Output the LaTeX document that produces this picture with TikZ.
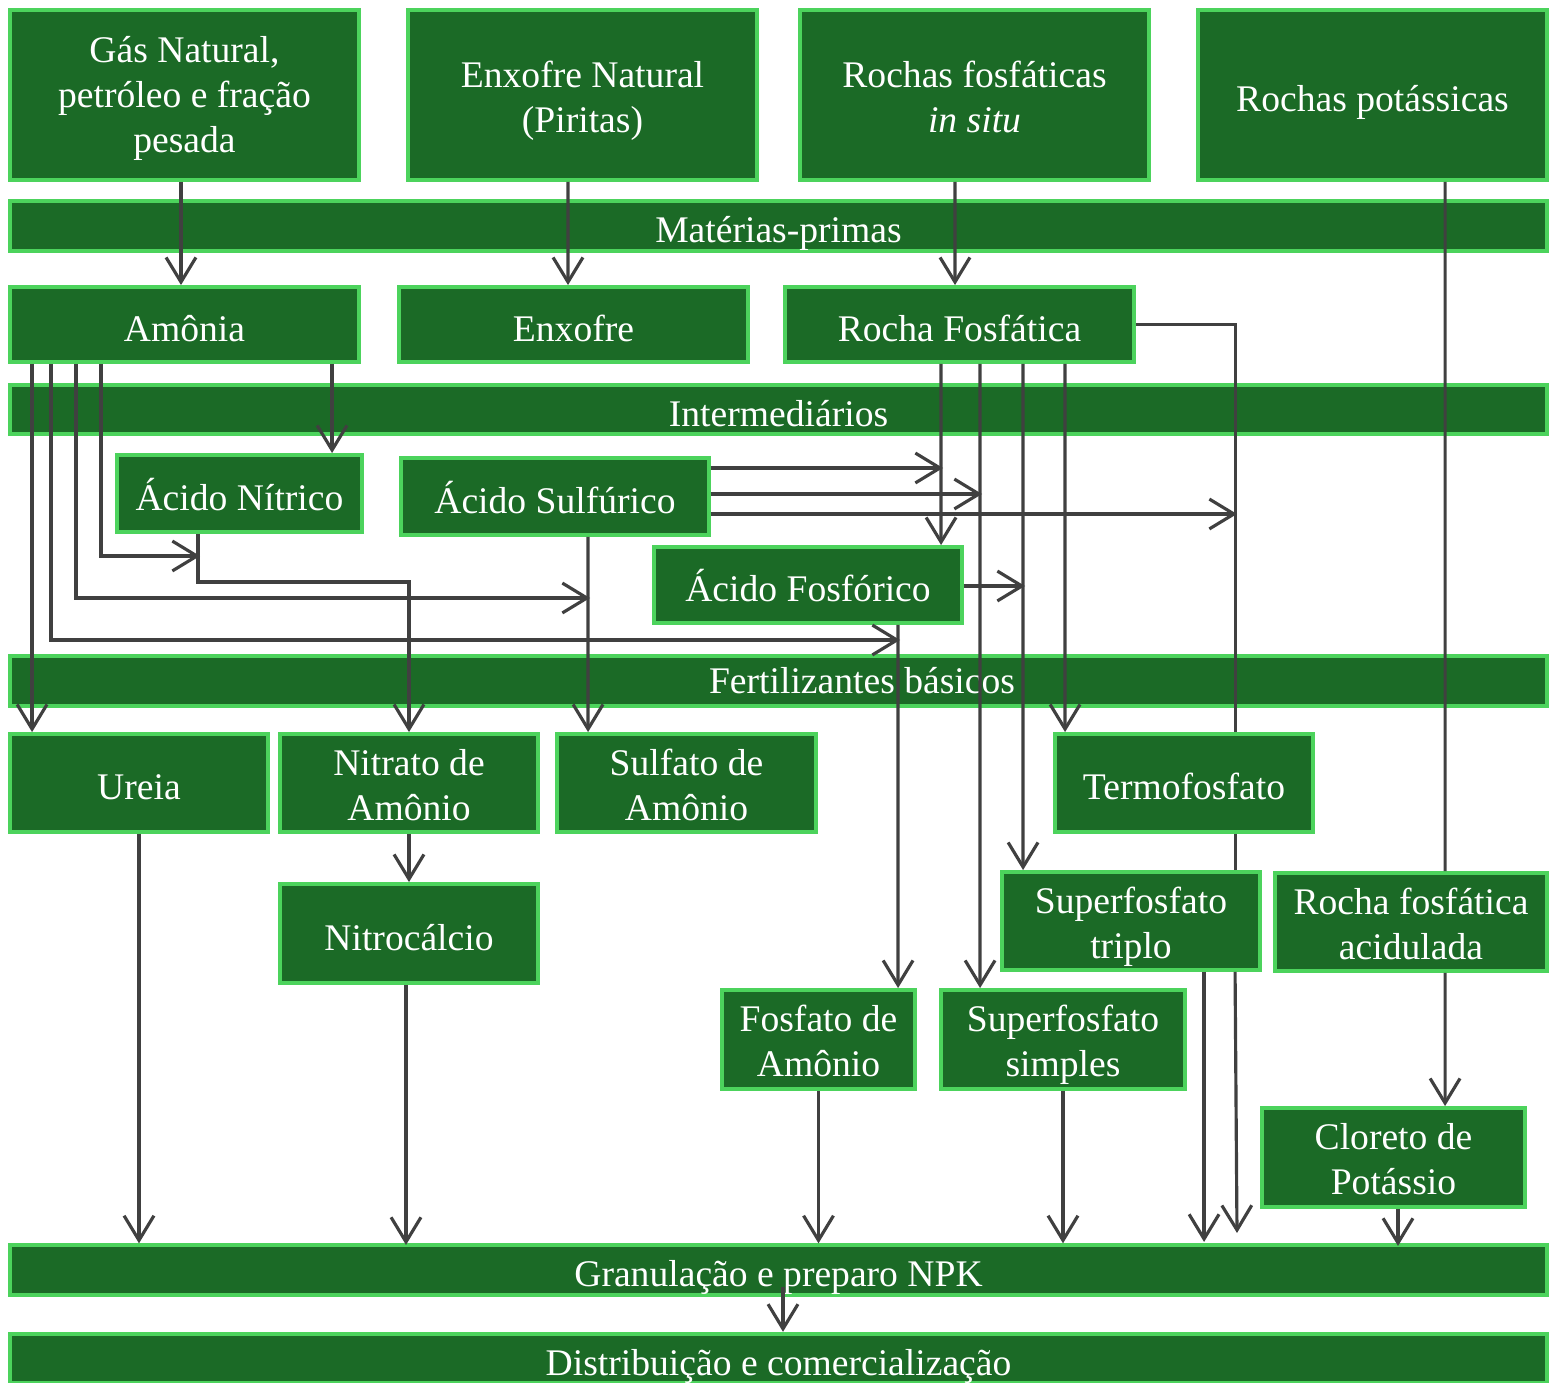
\documentclass[tikz,border=0pt]{standalone}
\usepackage{fontspec}
\setmainfont{Liberation Serif}
\usepackage{tikz}
\usetikzlibrary{arrows.meta}

\definecolor{boxfill}{RGB}{27,106,38}
\definecolor{boxline}{RGB}{76,211,92}
\definecolor{linegray}{RGB}{64,64,64}

\begin{document}
\begin{tikzpicture}[
  box/.style={draw=boxline, fill=boxfill, line width=1.1pt, text=white, align=center,
    inner sep=0pt, font=\fontsize{10.7}{12.8}\selectfont,
    execute at begin node={\rule{0pt}{1.1em}},
    execute at end node={\rule[-0.216em]{0pt}{0.216em}}},
  two/.style={execute at begin node={\rule{0pt}{\dimexpr 12.8pt+1.0em\relax}}},
  three/.style={execute at begin node={\rule{0pt}{\dimexpr 25.6pt+0.9em\relax}}},
  band/.style={box, minimum width=15.37cm, minimum height=0.44cm,
    execute at begin node={\rule{0pt}{0.891em}}},
  bandtext/.style={text=white, inner sep=0pt, font=\fontsize{10.7}{12.8}\selectfont,
    execute at begin node={\rule{0pt}{0.891em}},
    execute at end node={\rule[-0.216em]{0pt}{0.216em}}},
  arr/.style={draw=linegray, line width=0.9pt, -{Straight Barb[length=7pt,width=8.5pt]}},
  seg/.style={draw=linegray, line width=0.9pt}
]

\useasboundingbox (0,0) rectangle (15.5,-13.83);

%Bands
\node[band] (mat) at (7.785,-2.26) {Matérias-primas};
\node[band] (inter) at (7.785,-4.095) {Intermediários};
\node[band] (fert) at (7.785,-6.81) {};
\node[bandtext] (ferttxt) at (8.62,-6.81) {Fertilizantes básicos};
\node[band] (gran) at (7.785,-12.70) {Granulação e preparo NPK};
\node[band, minimum height=0.43cm] (dist) at (7.785,-13.585) {Distribuição e comercialização};

%Raw materials
\node[box, three, minimum width=3.49cm, minimum height=1.70cm] (gas) at (1.845,-0.95) {Gás Natural,\\petróleo e fração\\pesada};
\node[box, two, minimum width=3.49cm, minimum height=1.70cm] (pirita) at (5.825,-0.95) {Enxofre Natural\\(Piritas)};
\node[box, two, minimum width=3.49cm, minimum height=1.70cm] (rochasf) at (9.745,-0.95) {Rochas fosfáticas\\\textit{in situ}};
\node[box, minimum width=3.49cm, minimum height=1.70cm] (potas) at (13.725,-0.95) {Rochas potássicas};

\node[box, minimum width=3.49cm, minimum height=0.75cm] (amonia) at (1.845,-3.245) {Amônia};
\node[box, minimum width=3.49cm, minimum height=0.75cm] (enxofre) at (5.735,-3.245) {Enxofre};
\node[box, minimum width=3.49cm, minimum height=0.75cm] (rocha) at (9.595,-3.245) {Rocha Fosfática};

%Intermediates
\node[box, minimum width=2.45cm, minimum height=0.77cm] (nitrico) at (2.395,-4.935) {Ácido Nítrico};
\node[box, minimum width=3.08cm, minimum height=0.77cm] (sulfurico) at (5.55,-4.965) {Ácido Sulfúrico};
\node[box, minimum width=3.08cm, minimum height=0.76cm] (fosforico) at (8.08,-5.85) {Ácido Fosfórico};

%Fertilizers
\node[box, minimum width=2.58cm, minimum height=0.98cm] (ureia) at (1.39,-7.83) {Ureia};
\node[box, two, minimum width=2.58cm, minimum height=0.98cm] (nitrato) at (4.09,-7.83) {Nitrato de\\Amônio};
\node[box, two, minimum width=2.59cm, minimum height=0.98cm] (sulfato) at (6.865,-7.83) {Sulfato de\\Amônio};
\node[box, minimum width=2.58cm, minimum height=0.98cm] (termo) at (11.84,-7.83) {Termofosfato};
\node[box, minimum width=2.58cm, minimum height=0.99cm] (nitrocalcio) at (4.09,-9.335) {Nitrocálcio};
\node[box, two, minimum width=2.58cm, minimum height=0.98cm] (triplo) at (11.31,-9.21) {Superfosfato\\triplo};
\node[box, two, minimum width=2.72cm, minimum height=0.98cm] (acidulada) at (14.11,-9.22) {Rocha fosfática\\acidulada};
\node[box, two, minimum width=1.93cm, minimum height=0.99cm] (fosfato) at (8.185,-10.395) {Fosfato de\\Amônio};
\node[box, two, minimum width=2.44cm, minimum height=0.99cm] (simples) at (10.63,-10.395) {Superfosfato\\simples};
\node[box, two, minimum width=2.63cm, minimum height=0.99cm] (cloreto) at (13.935,-11.575) {Cloreto de\\Potássio};

%Junctions
\coordinate (jnit) at (2.00,-5.56);
\coordinate (jsulf) at (5.90,-5.98);
\coordinate (jfosf) at (9.00,-6.40);
\coordinate (jrf1) at (9.43,-4.68);
\coordinate (jrf2) at (9.82,-4.94);
\coordinate (jrf3) at (12.37,-5.14);
\coordinate (jtrip) at (10.25,-5.86);
\coordinate (jgran) at (12.37,-12.33);

%Raw materials to products
\draw[arr] ([xshift=-0.035cm]gas.south) -- ([xshift=-0.035cm]amonia.north);
\draw[arr] ([xshift=-0.145cm]pirita.south) -- ([xshift=-0.055cm]enxofre.north);
\draw[arr] ([xshift=-0.195cm]rochasf.south) -- ([xshift=-0.045cm]rocha.north);
\draw[seg] ([xshift=2.49cm]potas.south west) -- ([xshift=1.72cm]acidulada.north west);
\draw[arr] ([xshift=1.72cm]acidulada.south west) -- ([xshift=1.85cm]cloreto.north west);

%Amonia
\draw[arr] ([xshift=0.24cm]amonia.south west) -- ([xshift=0.24cm]ureia.north west);
\draw[arr] ([xshift=0.43cm]amonia.south west) |- (jfosf);
\draw[arr] ([xshift=0.68cm]amonia.south west) |- (jsulf);
\draw[arr] ([xshift=0.93cm]amonia.south west) |- (jnit);
\draw[arr] ([xshift=3.24cm]amonia.south west) -- ([xshift=2.17cm]nitrico.north west);

%Acids
\draw[arr] ([xshift=0.83cm]nitrico.south west) -- ++(0,-0.48) -| (nitrato.north);
\draw[arr] ([xshift=1.89cm]sulfurico.south west) -- ([xshift=0.33cm]sulfato.north west);
\draw[arr] (jrf1 -| sulfurico.east) -- (jrf1);
\draw[arr] (jrf2 -| sulfurico.east) -- (jrf2);
\draw[arr] (jrf3 -| sulfurico.east) -- (jrf3);
\draw[arr] (jtrip -| fosforico.east) -- (jtrip);
\draw[arr] ([xshift=2.46cm]fosforico.south west) -- ([xshift=1.78cm]fosfato.north west);

%Rocha Fosfatica
\draw[arr] ([xshift=1.58cm]rocha.south west) -- ([xshift=2.89cm]fosforico.north west);
\draw[arr] ([xshift=1.97cm]rocha.south west) -- ([xshift=0.41cm]simples.north west);
\draw[arr] ([xshift=2.40cm]rocha.south west) -- ([xshift=0.23cm]triplo.north west);
\draw[arr] ([xshift=2.82cm]rocha.south west) -- ([xshift=0.12cm]termo.north west);
\draw[seg] (rocha.east) -| ([xshift=1.82cm]termo.north west);
\draw[seg] ([xshift=1.82cm]termo.south west) -- ([xshift=2.35cm]triplo.north west);
\draw[arr] ([xshift=2.35cm]triplo.south west) -- (jgran);

%Fertilizers to NPK
\draw[arr] (nitrato.south) -- (nitrocalcio.north);
\draw[arr] (ureia.south) -- (ureia.south |- gran.north);
\draw[arr] ([xshift=-0.03cm]nitrocalcio.south) -- ++(0,-2.60);
\draw[arr] (fosfato.south) -- (fosfato.south |- gran.north);
\draw[arr] (simples.south) -- (simples.south |- gran.north);
\draw[arr] ([xshift=2.04cm]triplo.south west) -- ++(0,-2.70);
\draw[arr] ([xshift=0.045cm]cloreto.south) -- ++(0,-0.37);
\draw[arr] ([xshift=0.045cm,yshift=-0.17cm]gran.center) -- ([xshift=0.045cm]dist.north);

\end{tikzpicture}
\end{document}
